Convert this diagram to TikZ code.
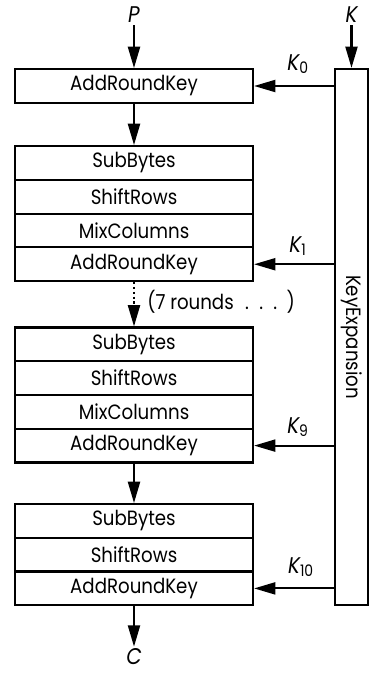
\documentclass[tikz,border=0pt]{standalone}
\usepackage{fontspec}
\setmainfont{Poppins}[FakeStretch=0.88]
\usetikzlibrary{arrows.meta}
\begin{document}
\begin{tikzpicture}[x=0.75pt,y=-0.75pt,
  every node/.style={font=\fontsize{15.5}{17}\selectfont},
  row/.style={draw, line width=1.6pt, minimum width=178.5pt, minimum height=25.3pt, inner sep=0pt},
  kbox/.style={draw, line width=1.6pt, minimum width=24.75pt, minimum height=402pt, inner sep=0pt},
  flow/.style={line width=1.6pt, -{Triangle[length=16pt,width=9pt]}},
  dflow/.style={flow, dotted},
  io/.style={inner sep=1.5pt, font=\fontsize{17}{19}\selectfont\itshape},
  klab/.style={inner sep=0pt, font=\fontsize{17}{19}\selectfont\itshape}]
\useasboundingbox (0,0) rectangle (384,674);
% round 0
\node[row] (a0) at (134,86) {AddRoundKey};
% round 1
\node[row] (s1) at (134,163) {SubBytes};
\node[row] (r1) at (134,196.75) {ShiftRows};
\node[row] (m1) at (134,230.5) {MixColumns};
\node[row] (a1) at (134,264.25) {AddRoundKey};
% round 9
\node[row] (s2) at (134,344.4) {SubBytes};
\node[row] (r2) at (134,378.1) {ShiftRows};
\node[row] (m2) at (134,411.9) {MixColumns};
\node[row] (a2) at (134,445.6) {AddRoundKey};
% round 10
\node[row] (s3) at (134,521) {SubBytes};
\node[row] (r3) at (134,554.7) {ShiftRows};
\node[row] (a3) at (134,588.4) {AddRoundKey};
% key expansion
\node[kbox] (ke) at (351.5,337) {};
\node[rotate=-90, inner sep=0pt] (ket) at (ke.center) {KeyExpansion};
% inputs / outputs
\node[io] (P) at (134,15) {P};
\node[io] (K) at (351.5,15) {K};
\node[io] (C) at (134,657) {C};
\node[anchor=west, inner sep=0pt] (rl) at (147,302) {(7 rounds\hspace{0.55em}.\hspace{0.5em}.\hspace{0.5em}.\hspace{0.45em})};
% key labels
\node[klab] (k0) at (298,64) {K\textsubscript{\upshape 0}};
\node[klab] (k1) at (298,246) {K\textsubscript{\upshape 1}};
\node[klab] (k9) at (298,427) {K\textsubscript{\upshape 9}};
\node[klab] (k10) at (301,567) {K\textsubscript{\upshape 10}};
% connectors
\draw[flow] (P) -- (a0);
\draw[flow] (K) -- (ke);
\draw[flow] (a0) -- (s1);
\draw[dflow] (a1) -- (s2);
\draw[flow] (a2) -- (s3);
\draw[flow] (a3) -- (C);
\draw[flow] (ke.west |- a0) -- (a0.east);
\draw[flow] (ke.west |- a1) -- (a1.east);
\draw[flow] (ke.west |- a2) -- (a2.east);
\draw[flow] (ke.west |- a3) -- (a3.east);
\end{tikzpicture}
\end{document}
